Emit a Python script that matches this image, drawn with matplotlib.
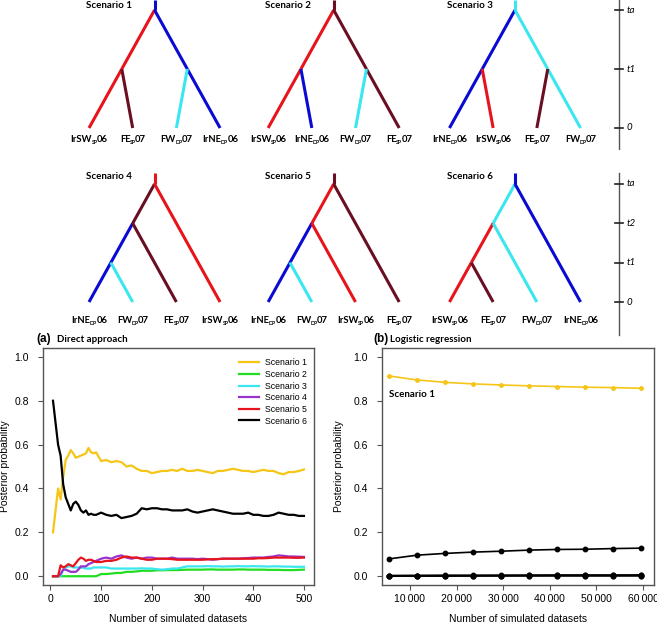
import numpy as np
import matplotlib
matplotlib.use("Agg")
import matplotlib.pyplot as plt
from matplotlib.transforms import offset_copy

plt.rcParams['font.family'] = ['Liberation Sans', 'DejaVu Sans']

# ---------------- tree data ----------------
RED = '#e8141c'
BLUE = '#0a0ad2'
CYAN = '#3ae6f0'
MAROON = '#6a0f22'

IRSW = ('IrSW', 'SP', '06')
IRNE = ('IrNE', 'DP', '06')
FE = ('FE', 'SP', '07')
FW = ('FW', 'DP', '07')

scen_names = ['Scenario 1', 'Scenario 2', 'Scenario 3',
              'Scenario 4', 'Scenario 5', 'Scenario 6']
scen_tips = [[IRSW, FE, FW, IRNE],
             [IRSW, IRNE, FW, FE],
             [IRNE, IRSW, FE, FW],
             [IRNE, FW, FE, IRSW],
             [IRNE, FW, IRSW, FE],
             [IRSW, FE, FW, IRNE]]
scen_stem = [BLUE, MAROON, CYAN, RED, MAROON, BLUE]
# branches: (child, parent, colour); ints = tip index, 'L1' = node on left chain at level 1 etc.
scen_edges = [
    [(0, 'L1', RED), ('L1', 'r', RED), (1, 'L1', MAROON),
     (3, 'R1', BLUE), ('R1', 'r', BLUE), (2, 'R1', CYAN)],
    [(0, 'L1', RED), ('L1', 'r', RED), (1, 'L1', BLUE),
     (3, 'R1', MAROON), ('R1', 'r', MAROON), (2, 'R1', CYAN)],
    [(0, 'L1', BLUE), ('L1', 'r', BLUE), (1, 'L1', RED),
     (3, 'R1', CYAN), ('R1', 'r', CYAN), (2, 'R1', MAROON)],
    [(0, 'L1', BLUE), ('L1', 'L2', BLUE), ('L2', 'r', MAROON),
     (1, 'L1', CYAN), (2, 'L2', MAROON), (3, 'r', RED)],
    [(0, 'L1', BLUE), ('L1', 'L2', BLUE), ('L2', 'r', RED),
     (1, 'L1', CYAN), (2, 'L2', RED), (3, 'r', MAROON)],
    [(0, 'L1', RED), ('L1', 'L2', RED), ('L2', 'r', CYAN),
     (1, 'L1', MAROON), (2, 'L2', CYAN), (3, 'r', BLUE)],
]
row1_times = ['0', 't1', 'ta']
row2_times = ['0', 't1', 't2', 'ta']

# ---------------- panel (a) data ----------------
n_sets = [5, 10, 15, 20, 25, 30, 35, 40, 45, 50, 55, 60, 65, 70, 75, 80, 85, 90, 95, 100,
          110, 120, 130, 140, 150, 160, 170, 180, 190, 200, 210, 220, 230, 240, 250,
          260, 270, 280, 290, 300, 310, 320, 330, 340, 350, 360, 370, 380, 390, 400,
          410, 420, 430, 440, 450, 460, 470, 480, 490, 500]
pp_s1 = [0.20, 0.30, 0.40, 0.35, 0.45, 0.53, 0.55, 0.575, 0.56, 0.54, 0.545, 0.55, 0.555, 0.56, 0.585,
         0.565, 0.56, 0.565, 0.545, 0.525,
         0.53, 0.52, 0.525, 0.52, 0.50, 0.505, 0.49, 0.48, 0.48, 0.47, 0.475, 0.48, 0.48, 0.485, 0.48,
         0.49, 0.48, 0.48, 0.485, 0.48, 0.475, 0.47, 0.48, 0.48, 0.485, 0.49, 0.485, 0.48, 0.48, 0.475,
         0.48, 0.485, 0.48, 0.48, 0.47, 0.465, 0.475, 0.475, 0.48, 0.487]
pp_s2 = [0, 0, 0, 0, 0, 0, 0, 0, 0, 0, 0, 0, 0, 0, 0, 0, 0, 0, 0.005, 0.01,
         0.01, 0.012, 0.015, 0.015, 0.02, 0.02, 0.022, 0.025, 0.025, 0.025, 0.027, 0.027, 0.028, 0.028, 0.028,
         0.029, 0.03, 0.03, 0.03, 0.03, 0.031, 0.031, 0.03, 0.03, 0.03, 0.03, 0.031, 0.031, 0.03, 0.03,
         0.03, 0.03, 0.029, 0.029, 0.029, 0.028, 0.028, 0.028, 0.029, 0.03]
pp_s3 = [0, 0, 0, 0, 0.03, 0.04, 0.045, 0.045, 0.04, 0.04, 0.04, 0.04, 0.038, 0.035, 0.035, 0.035, 0.04, 0.04,
         0.04, 0.04,
         0.04, 0.035, 0.035, 0.035, 0.035, 0.035, 0.035, 0.036, 0.035, 0.035, 0.032, 0.03, 0.032, 0.035, 0.035,
         0.04, 0.045, 0.045, 0.045, 0.045, 0.046, 0.045, 0.045, 0.044, 0.045, 0.045, 0.046, 0.045, 0.045, 0.046,
         0.045, 0.045, 0.044, 0.045, 0.045, 0.044, 0.044, 0.043, 0.043, 0.043]
pp_s4 = [0, 0, 0, 0.01, 0.03, 0.03, 0.025, 0.02, 0.02, 0.02, 0.03, 0.045, 0.045, 0.045, 0.055, 0.06, 0.065,
         0.07, 0.075, 0.08,
         0.085, 0.08, 0.09, 0.095, 0.085, 0.08, 0.085, 0.08, 0.085, 0.085, 0.08, 0.08, 0.08, 0.085, 0.08,
         0.08, 0.08, 0.08, 0.078, 0.08, 0.078, 0.075, 0.078, 0.08, 0.08, 0.08, 0.08, 0.082, 0.083, 0.085,
         0.085, 0.085, 0.088, 0.09, 0.095, 0.093, 0.09, 0.09, 0.089, 0.088]
pp_s5 = [0, 0, 0, 0.05, 0.04, 0.045, 0.055, 0.05, 0.045, 0.06, 0.075, 0.085, 0.08, 0.07, 0.075, 0.075, 0.07,
         0.065, 0.065, 0.065,
         0.07, 0.07, 0.075, 0.085, 0.09, 0.085, 0.085, 0.08, 0.075, 0.075, 0.08, 0.08, 0.08, 0.078, 0.075,
         0.075, 0.075, 0.075, 0.075, 0.075, 0.077, 0.078, 0.078, 0.08, 0.08, 0.08, 0.08, 0.08, 0.08, 0.08,
         0.082, 0.082, 0.083, 0.085, 0.085, 0.085, 0.085, 0.084, 0.084, 0.085]
pp_s6 = [0.80, 0.70, 0.60, 0.55, 0.42, 0.36, 0.33, 0.30, 0.33, 0.34, 0.325, 0.30, 0.29, 0.30, 0.28, 0.285,
         0.28, 0.28, 0.285, 0.29,
         0.28, 0.275, 0.28, 0.265, 0.27, 0.275, 0.285, 0.31, 0.305, 0.31, 0.31, 0.305, 0.305, 0.30, 0.30,
         0.30, 0.305, 0.295, 0.29, 0.295, 0.30, 0.305, 0.30, 0.295, 0.29, 0.285, 0.285, 0.285, 0.29, 0.28,
         0.28, 0.275, 0.275, 0.28, 0.29, 0.285, 0.28, 0.28, 0.275, 0.275]
series_a = [pp_s1, pp_s2, pp_s3, pp_s4, pp_s5, pp_s6]
colors_a = ['#f5c518', '#22dd22', '#3ae6f0', '#9933cc', '#e8141c', '#000000']

# ---------------- panel (b) data ----------------
n_sets_b = [5500, 11500, 17500, 23500, 29500, 35500, 41500, 47500, 53500, 59500]
lr_s1 = [0.913, 0.895, 0.884, 0.877, 0.872, 0.868, 0.865, 0.862, 0.860, 0.857]
lr_s6 = [0.079, 0.096, 0.104, 0.110, 0.114, 0.119, 0.122, 0.123, 0.126, 0.128]
lr_low = [[0.001, 0.001, 0.001, 0.002, 0.002, 0.002, 0.002, 0.002, 0.002, 0.002],
          [0.002, 0.002, 0.002, 0.002, 0.003, 0.003, 0.003, 0.003, 0.003, 0.003],
          [0.002, 0.003, 0.003, 0.003, 0.003, 0.004, 0.004, 0.004, 0.004, 0.005],
          [0.003, 0.003, 0.004, 0.004, 0.004, 0.004, 0.005, 0.005, 0.005, 0.005]]

# ================= figure =================
fig = plt.figure(figsize=(6.57, 6.25), dpi=100)
renderer = fig.canvas.get_renderer()


def node_xy(name, top):
    if isinstance(name, int):
        return name, 0
    if name == 'r':
        return 1.5, top
    lvl = int(name[1])
    x = 1.5 * lvl / top
    return (x if name[0] == 'L' else 3 - x), lvl


def tip_label(ax, x, y, parts, fs=6.8):
    # main text, small lowered subscript, tail -- centred on x, baseline at y
    sizes = [fs, fs * 0.55, fs]
    drops = [0, -1.6, 0]
    widths = []
    for s, size in zip(parts, sizes):
        t = ax.text(0, 0, s, fontsize=size, family='Lato', fontweight='bold')
        widths.append(t.get_window_extent(renderer).width - 0.6)
        t.remove()
    cur = -sum(widths) / 2
    for s, size, dy, w in zip(parts, sizes, drops, widths):
        tr = offset_copy(ax.transData, fig=fig, x=cur * 72 / fig.dpi, y=dy, units='points')
        ax.text(x, y, s, transform=tr, fontsize=size, family='Lato', fontweight='bold',
                ha='left', va='baseline')
        cur += w


def draw_row(ax, idxs, top, stem_top, title_y, label_y, times, axis_span):
    offsets = [0, 4.1, 8.25]
    for off, k in zip(offsets, idxs):
        for child, parent, col in scen_edges[k]:
            x0, y0 = node_xy(child, top)
            x1, y1 = node_xy(parent, top)
            ax.plot([x0 + off, x1 + off], [y0, y1], color=col, lw=2.2,
                    solid_capstyle='butt')
        ax.plot([1.5 + off, 1.5 + off], [top, stem_top], color=scen_stem[k], lw=2.2,
                solid_capstyle='butt')
        ax.text(off + 0.46, title_y, scen_names[k], ha='center', va='center',
                family='Lato', fontweight='bold', fontsize=7)
        for i, lab in enumerate(scen_tips[k]):
            tip_label(ax, off + i, label_y, lab)
    # time scale
    xs = 12.13
    ax.plot([xs, xs], axis_span, color='#555555', lw=1)
    for lvl, t in enumerate(times):
        ax.plot([xs - 0.09, xs + 0.09], [lvl, lvl], color='#222222', lw=1.2)
        ax.text(xs + 0.18, lvl, t, ha='left', va='center', family='Lato',
                style='italic', fontsize=7)


ax_t1 = fig.add_axes([0, 0.76, 1, 0.24])
ax_t1.set_xlim(-2.037, 13.0)
ax_t1.set_ylim(-0.373, 2.17)
ax_t1.axis('off')
draw_row(ax_t1, [0, 1, 2], 2, 2.17, 2.085, -0.24, row1_times, [2.17, -0.373])

ax_t2 = fig.add_axes([0, 0.456, 1, 0.28])
ax_t2.set_xlim(-2.037, 13.0)
ax_t2.set_ylim(-0.966, 3.483)
ax_t2.axis('off')
draw_row(ax_t2, [3, 4, 5], 3, 3.28, 3.18, -0.53, row2_times, [3.28, -0.84])


def style_panel(ax):
    for s in ax.spines.values():
        s.set_color('#555555')
        s.set_linewidth(1)
    ax.tick_params(direction='out', length=3.6, width=0.8, color='#555555',
                   labelsize=7.5)
    ax.tick_params(axis='y', pad=6.5)
    ax.tick_params(axis='x', pad=3)
    ax.set_yticks([0, 0.2, 0.4, 0.6, 0.8, 1.0])
    ax.set_yticklabels(['0.0', '0.2', '0.4', '0.6', '0.8', '1.0'])
    ax.set_ylim(-0.04, 1.04)


# panel (a)
ax_a = fig.add_axes([0.0654, 0.064, 0.4125, 0.379])
for vals, col, name in zip(series_a, colors_a, scen_names):
    ax_a.plot(n_sets, vals, color=col, lw=1.6, label=name)
ax_a.set_xlim(-14.8, 519.8)
ax_a.set_xticks([0, 100, 200, 300, 400, 500])
style_panel(ax_a)
ax_a.legend(loc='upper right', bbox_to_anchor=(0.992, 0.975), frameon=False,
            fontsize=6.3, borderpad=0, labelspacing=0.3, handlelength=2.3,
            handletextpad=0.7)
ax_a.text(-0.14, 0.5, 'Posterior probability', transform=ax_a.transAxes,
          rotation=90, ha='center', va='center', fontsize=7.5)
ax_a.text(0.5, -0.143, 'Number of simulated datasets', transform=ax_a.transAxes,
          ha='center', va='center', fontsize=7.5)
ax_a.text(-0.026, 1.038, '(a)', transform=ax_a.transAxes, ha='left', va='center',
          fontsize=8.5, fontweight='bold')
ax_a.text(0.052, 1.038, 'Direct approach', transform=ax_a.transAxes, ha='left',
          va='center', family='Lato', fontweight='bold', fontsize=7)

# panel (b)
ax_b = fig.add_axes([0.5814, 0.064, 0.414, 0.379])
ax_b.plot(n_sets_b, lr_s1, color='#f5c518', lw=1.2, marker='o', ms=2.5)
ax_b.plot(n_sets_b, lr_s6, color='black', lw=1.2, marker='o', ms=3.2)
for vals in lr_low:
    ax_b.plot(n_sets_b, vals, color='black', lw=1.2, marker='o', ms=3.2)
ax_b.set_xlim(3990, 62360)
xt = [10000, 20000, 30000, 40000, 50000, 60000]
ax_b.set_xticks(xt)
ax_b.set_xticklabels([f'{v // 1000}\u2009000' for v in xt])
style_panel(ax_b)
ax_b.text(-0.158, 0.5, 'Posterior probability', transform=ax_b.transAxes,
          rotation=90, ha='center', va='center', fontsize=7.5)
ax_b.text(0.5, -0.143, 'Number of simulated datasets', transform=ax_b.transAxes,
          ha='center', va='center', fontsize=7.5)
ax_b.text(-0.033, 1.038, '(b)', transform=ax_b.transAxes, ha='left', va='center',
          fontsize=8.5, fontweight='bold')
ax_b.text(0.03, 1.038, 'Logistic regression', transform=ax_b.transAxes, ha='left',
          va='center', family='Lato', fontweight='bold', fontsize=7)
ax_b.text(0.026, 0.806, 'Scenario 1', transform=ax_b.transAxes, ha='left',
          va='center', family='Lato', fontweight='bold', fontsize=7)

fig.savefig('out.png', dpi=100)
